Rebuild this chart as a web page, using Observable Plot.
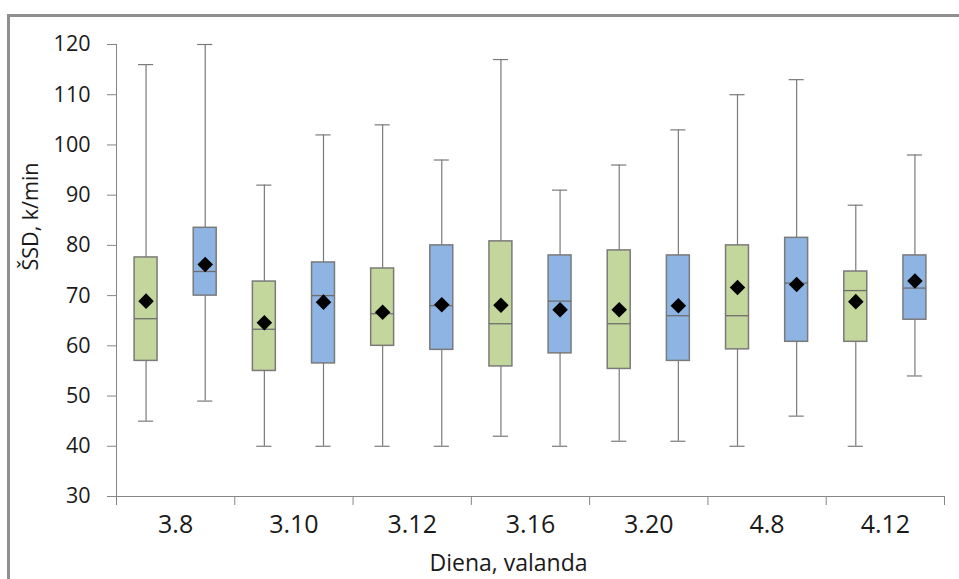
<!DOCTYPE html>
<html>
<head>
<meta charset="utf-8">
<script src="https://cdn.jsdelivr.net/npm/d3@7"></script>
<script src="https://cdn.jsdelivr.net/npm/@observablehq/plot@0.6"></script>
<style>
  html, body { margin: 0; padding: 0; background: #fff; }
  #wrap { position: relative; width: 959px; height: 579px; overflow: hidden; }
  #frame { position: absolute; left: 7px; top: 14px; width: 960px; height: 580px;
           border-top: 3px solid #8f8f8f; border-left: 3px solid #8f8f8f; pointer-events: none; }
</style>
</head>
<body>
<div id="wrap"><div id="frame"></div></div>
<script>
const categories = ["3.8", "3.10", "3.12", "3.16", "3.20", "4.8", "4.12"];

// green series (first box in each group)
const greenMin    = [45, 40, 40, 42, 41, 40, 40];
const greenQ1     = [57, 55, 60, 55.9, 55.4, 59.3, 60.8];
const greenMedian = [65.4, 63.3, 66.4, 64.4, 64.4, 66, 71];
const greenQ3     = [77.6, 72.8, 75.4, 80.8, 79, 80, 74.8];
const greenMax    = [116, 92, 104, 117, 96, 110, 88];
const greenMean   = [68.9, 64.6, 66.7, 68.1, 67.2, 71.6, 68.8];

// blue series (second box in each group)
const blueMin    = [49, 40, 40, 40, 41, 46, 54];
const blueQ1     = [70, 56.5, 59.2, 58.5, 57, 60.8, 65.2];
const blueMedian = [74.8, 70, 68, 68.9, 66, 72.5, 71.5];
const blueQ3     = [83.5, 76.6, 80, 78, 78, 81.5, 78];
const blueMax    = [120, 102, 97, 91, 103, 113, 98];
const blueMean   = [76.2, 68.7, 68.2, 67.2, 68, 72.2, 72.9];

const yTicks = [30, 40, 50, 60, 70, 80, 90, 100, 110, 120];

const series = [
  {name: "green", color: "#C3D69B", min: greenMin, q1: greenQ1, median: greenMedian, q3: greenQ3, max: greenMax, mean: greenMean},
  {name: "blue",  color: "#8EB4E3", min: blueMin,  q1: blueQ1,  median: blueMedian,  q3: blueQ3,  max: blueMax,  mean: blueMean}
];

const rows = categories.flatMap((c, i) => series.map((s, j) => ({
  cat: c, color: s.color,
  pos: i + (j + 0.5) / series.length,
  min: s.min[i], q1: s.q1[i], median: s.median[i], q3: s.q3[i], max: s.max[i], mean: s.mean[i]
})));

const boxHalf = 0.097, capHalf = 0.064;
const gray = "#868686";
const ink = "#1a1a1a";
const font = "'Open Sans', Carlito, Lato, sans-serif";

const chart = Plot.plot({
  width: 959, height: 579,
  marginLeft: 116, marginRight: 15, marginTop: 44, marginBottom: 83,
  x: {domain: [0, categories.length], axis: null},
  y: {domain: [30, 120], axis: null},
  style: {fontFamily: font, background: "transparent", color: ink},
  marks: [
    Plot.axisY({ticks: yTicks, tickSize: 9, tickPadding: 17, fontSize: 21.5, stroke: gray, fill: ink, label: null}),
    Plot.ruleX([0], {y1: 30, y2: 120, stroke: gray}),
    Plot.ruleY([30], {stroke: gray}),
    Plot.axisX({ticks: d3.range(0, categories.length + 1), tickSize: 9, tickFormat: () => "", stroke: gray, label: null}),
    Plot.axisX({ticks: categories.map((c, i) => i + 0.5), tickSize: 0, tickPadding: 19, fontSize: 25,
                tickFormat: d => categories[Math.floor(d)], fill: ink, label: null}),
    // whiskers
    Plot.ruleX(rows, {x: "pos", y1: "min", y2: "max", stroke: "#7a7a7a", strokeWidth: 1.2}),
    Plot.ruleY(rows, {y: "min", x1: d => d.pos - capHalf, x2: d => d.pos + capHalf, stroke: "#7a7a7a", strokeWidth: 1.2}),
    Plot.ruleY(rows, {y: "max", x1: d => d.pos - capHalf, x2: d => d.pos + capHalf, stroke: "#7a7a7a", strokeWidth: 1.2}),
    // boxes
    Plot.rect(rows, {x1: d => d.pos - boxHalf, x2: d => d.pos + boxHalf, y1: "q1", y2: "q3",
                     fill: "color", stroke: "#7a7a7a", strokeWidth: 1.5}),
    Plot.ruleY(rows, {y: "median", x1: d => d.pos - boxHalf, x2: d => d.pos + boxHalf, stroke: "#6e6e6e", strokeWidth: 1.3}),
    // means
    Plot.dot(rows, {x: "pos", y: "mean", symbol: "diamond2", r: 7, fill: "#000", stroke: "none"}),
    // titles
    Plot.text(["ŠSD, k/min"], {frameAnchor: "left", rotate: -90, dx: -85, fontSize: 21.5, fill: ink}),
    Plot.text(["Diena, valanda"], {frameAnchor: "bottom", lineAnchor: "middle", dy: 67, dx: -22, fontSize: 23, fill: ink})
  ]
});

document.getElementById("wrap").prepend(chart);
</script>
</body>
</html>
